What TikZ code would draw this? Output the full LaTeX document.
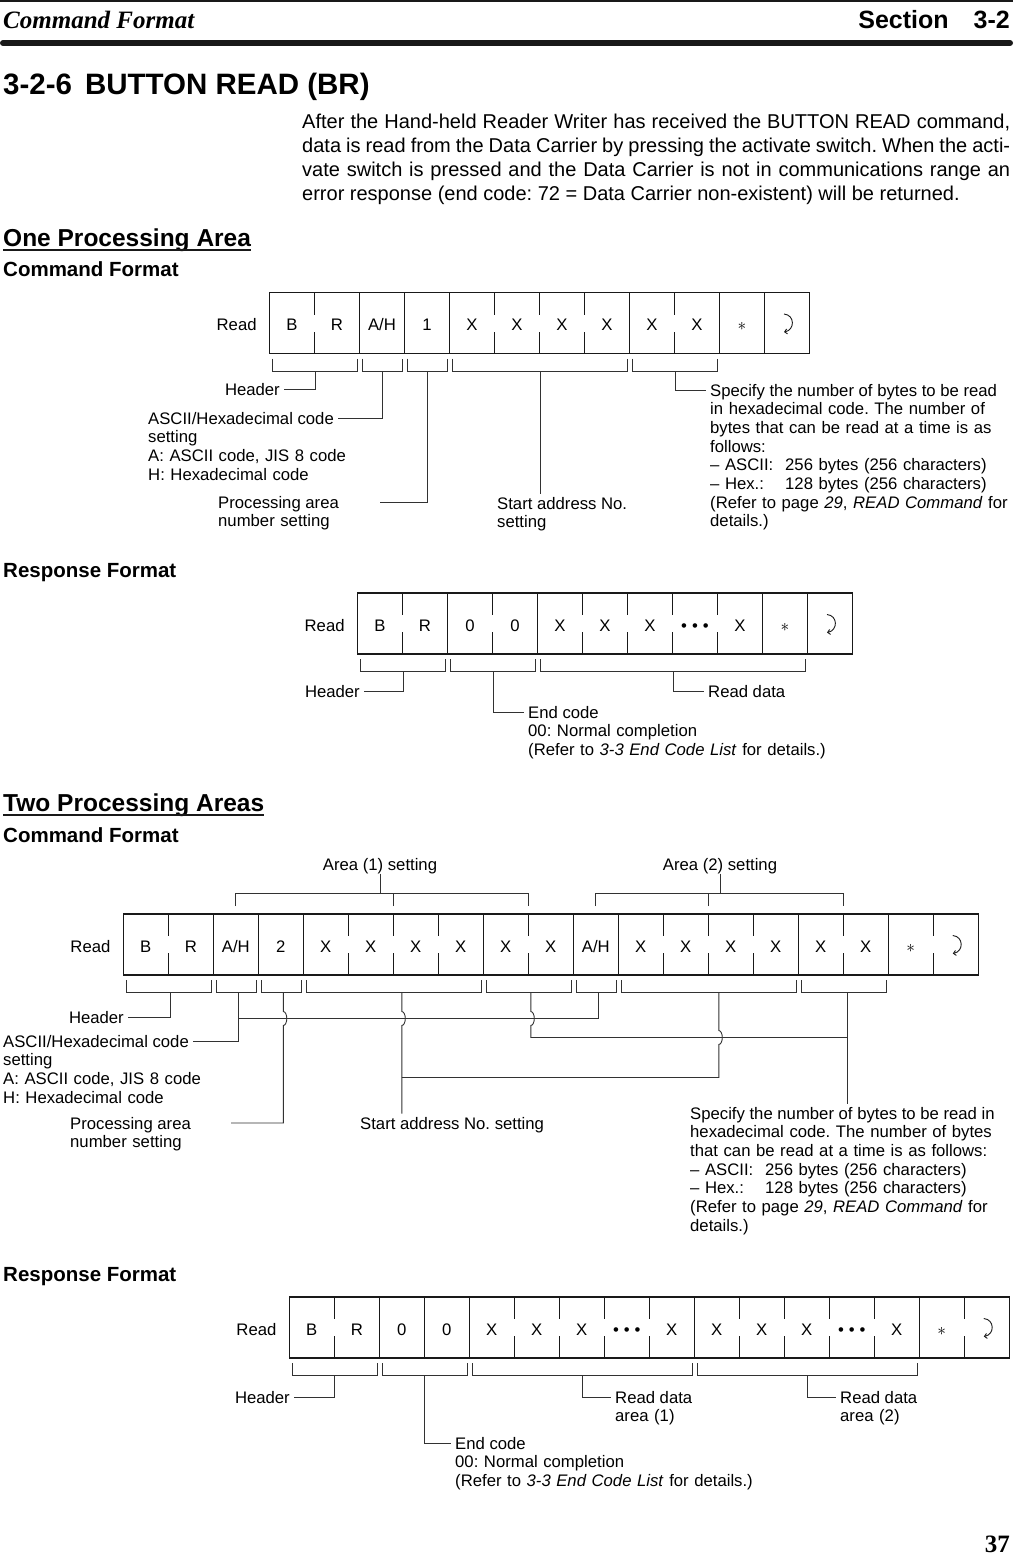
\documentclass[tikz,border=0pt]{standalone}
\usepackage{fontspec}
\setmainfont{Liberation Sans}
\newfontfamily\timesfont{Liberation Serif}
\usepackage{tikz}
\usetikzlibrary{arrows.meta, positioning, calc}
\definecolor{ink}{RGB}{25,25,25}
\definecolor{wire}{RGB}{50,50,50}
\frenchspacing
\newcommand\diafont{\fontsize{16.7}{18.65}\selectfont}
\newcommand\tridots{\textbullet\hspace{5pt}\textbullet\hspace{5pt}\textbullet}

\tikzset{
  cell/.style={minimum width=45pt, minimum height=60.6pt, inner sep=0pt, font=\diafont, text height=15pt, text depth=0pt},
  lbl/.style={font=\diafont, inner xsep=4pt, inner ysep=0pt, text height=15.5pt, text depth=3.1pt},
  lblpar/.style={font=\diafont, inner xsep=4pt, inner ysep=0pt, text width=340pt, align=left, anchor=base west},
  frame/.style={draw=ink, line width=1.1pt},
  brk/.style={draw=wire, line width=0.9pt},
  ret/.style={draw=ink, line width=0.9pt, -{Straight Barb[length=2.5pt,width=5pt]}},
  head/.style={font=\fontsize{24.5}{28}\selectfont\bfseries, inner sep=0pt, anchor=base west},
  subhead/.style={font=\fontsize{20.5}{24}\selectfont\bfseries, inner sep=0pt, anchor=base west},
}

\begin{document}
\begin{tikzpicture}[x=1pt, y=-1pt]
  \useasboundingbox (0,0) rectangle (1013,1558);
  \fill[white] (0,0) rectangle (1013,1558);
  % Page head
  \draw[ink, line width=1.5pt] (0,1) -- (1013,1);
  \node[anchor=base west, inner sep=0pt, font=\timesfont\fontsize{25}{28}\selectfont\bfseries\itshape] (pghead) at (3,28) {Command Format};
  \node[anchor=base east, inner sep=0pt, font=\fontsize{25}{28}\selectfont\bfseries] (pgsec) at (1010,28) {Section\hspace{25pt}3-2};
  \draw[ink, line width=6pt, line cap=round] (3,43) -- (1010,43);
  \node[anchor=base west, inner sep=0pt, font=\fontsize{29.5}{32}\selectfont\bfseries] (title) at (3,94) {3-2-6\hspace{13pt}BUTTON READ (BR)};
  \node[anchor=base west, inner sep=0pt, text width=708pt, align=justify, font=\fontsize{20}{24}\selectfont] (intro) at (302,128) {After the Hand-held Reader Writer has received the BUTTON READ command,\linebreak data is read from the Data Carrier by pressing the activate switch. When the acti-\linebreak vate switch is pressed and the Data Carrier is not in communications range an\linebreak error response (end code: 72 = Data Carrier non-existent) will be returned.};

  % One processing area
  \node[head] (opa) at (3,246) {One Processing Area};
  \draw[ink, line width=1.8pt] ([yshift=-4pt]opa.base west) -- ([yshift=-4pt]opa.base east);
  \node[subhead] (cf1) at (3,276) {Command Format};
  \foreach \t [count=\i from 0] in {B,R,A/H,1,X,X,X,X,X,X,$\ast$,{}}
    \node[cell] (c1-\i) at ({292+45*\i},323) {\t};
  \draw[frame] (c1-0.north west) rectangle (c1-11.south east);
  \foreach \i in {2,3,4,8,10,11}
    \draw[frame] (c1-\i.north west) -- (c1-\i.south west);
  \foreach \i in {1,5,6,7,9}
    \draw[frame] (c1-\i.north west) -- ++(0,22) (c1-\i.south west) -- ++(0,-22);
  \draw[ret] ($(c1-11.center)+(-3,-9)$) .. controls +(11,1) and +(11,-2) .. ($(c1-11.center)+(-3,9)$);
  \node[lbl, anchor=base east] (rd1) at ([xshift=-8.5pt]c1-0.base west) {Read};
  \foreach \a/\b/\nm in {0/1/h,2/2/a,3/3/p,4/7/s,8/9/n} {
    \draw[brk] ($(c1-\a.south west)+(3,5)$) -- ++(0,12.5) -| ($(c1-\b.south east)+(-2,5)$);
    \coordinate (b1\nm) at ($(c1-\a.south west)!.5!(c1-\b.south east)+(0.5,17.5)$);
  }
  \node[lbl, anchor=east] (hd1) at (284,389) {Header};
  \draw[brk] (b1h) |- (hd1.east);
  \node[lbl, anchor=west] (as1) at (144,418) {ASCII/Hexadecimal code};
  \node[lblpar] (as1x) at ([yshift=-18.65pt]as1.base west) {setting\\A: ASCII code, JIS 8 code\\H: Hexadecimal code};
  \draw[brk] (b1a) |- (as1.east);
  \node[lbl, anchor=west] (pr1) at (214,502) {Processing area};
  \node[lblpar] (pr1x) at ([yshift=-18.65pt]pr1.base west) {number setting};
  \coordinate (pr1e) at ([xshift=37pt]pr1.east);
  \draw[brk] (b1p) |- (pr1e);
  \node[lbl, anchor=west] (st1) at (493,503) {Start address No.};
  \node[lblpar] (st1x) at ([yshift=-18.65pt]st1.base west) {setting};
  \draw[brk] (b1s) -- (b1s |- st1.north);
  \node[lbl, anchor=west] (sp1) at (706,390) {Specify the number of bytes to be read};
  \node[lblpar] (sp1x) at ([yshift=-18.65pt]sp1.base west) {in hexadecimal code. The number of\\bytes that can be read at a time is as\\follows:\\\makebox[75pt][l]{– ASCII:}256 bytes (256 characters)\\\makebox[75pt][l]{– Hex.:}128 bytes (256 characters)\\(Refer to page \textit{29}, \textit{READ Command} for\\details.)};
  \draw[brk] (b1n) |- (sp1.west);

  \node[subhead] (rf1) at (3,577) {Response Format};
  \foreach \t [count=\i from 0] in {B,R,0,0,X,X,X,\tridots,X,$\ast$,{}}
    \node[cell] (c2-\i) at ({380+45*\i},623.5) {\t};
  \draw[frame] (c2-0.north west) rectangle (c2-10.south east);
  \foreach \i in {2,4,9,10}
    \draw[frame] (c2-\i.north west) -- (c2-\i.south west);
  \foreach \i in {1,3,5,6,7,8}
    \draw[frame] (c2-\i.north west) -- ++(0,22) (c2-\i.south west) -- ++(0,-22);
  \draw[ret] ($(c2-10.center)+(-3,-9)$) .. controls +(11,1) and +(11,-2) .. ($(c2-10.center)+(-3,9)$);
  \node[lbl, anchor=base east] (rd2) at ([xshift=-8.5pt]c2-0.base west) {Read};
  \foreach \a/\b/\nm in {0/1/h,2/3/e,4/9/d} {
    \draw[brk] ($(c2-\a.south west)+(3,5)$) -- ++(0,12.5) -| ($(c2-\b.south east)+(-2,5)$);
    \coordinate (b2\nm) at ($(c2-\a.south west)!.5!(c2-\b.south east)+(0.5,17.5)$);
  }
  \node[lbl, anchor=east] (hd2) at (364,691) {Header};
  \draw[brk] (b2h) |- (hd2.east);
  \node[lbl, anchor=west] (ec1) at (524,712) {End code};
  \node[lblpar] (ec1x) at ([yshift=-18.65pt]ec1.base west) {00: Normal completion\\(Refer to \textit{3-3 End Code List} for details.)};
  \draw[brk] (b2e) |- (ec1.west);
  \node[lbl, anchor=west] (dt1) at (704,691) {Read data};
  \draw[brk] (b2d) |- (dt1.west);

  % Two processing areas
  \node[head] (tpa) at (3,811) {Two Processing Areas};
  \draw[ink, line width=1.8pt] ([yshift=-4pt]tpa.base west) -- ([yshift=-4pt]tpa.base east);
  \node[subhead] (cf2) at (3,842) {Command Format};
  \foreach \t [count=\i from 0] in {B,R,A/H,2,X,X,X,X,X,X,A/H,X,X,X,X,X,X,$\ast$,{}}
    \node[cell] (c3-\i) at ({145.8+45*\i},944.5) {\t};
  \draw[frame] (c3-0.north west) rectangle (c3-18.south east);
  \foreach \i in {2,3,4,8,10,11,15,17}
    \draw[frame] (c3-\i.north west) -- (c3-\i.south west);
  \foreach \i in {1,5,6,7,9,12,13,14,16,18}
    \draw[frame] (c3-\i.north west) -- ++(0,22) (c3-\i.south west) -- ++(0,-22);
  \draw[ret] ($(c3-18.center)+(-3,-9)$) .. controls +(11,1) and +(11,-2) .. ($(c3-18.center)+(-3,9)$);
  \node[lbl, anchor=base east] (rd3) at ([xshift=-8.5pt]c3-0.base west) {Read};
  % area brackets
  \node[lbl] (ar1) at (380,864) {Area (1) setting};
  \node[lbl] (ar2) at (720,864) {Area (2) setting};
  \coordinate (a1t) at ([yshift=21pt]c3-2.north);
  \draw[brk] ([yshift=8pt]c3-2.north) -- (a1t) -| ([yshift=8pt]c3-8.north east);
  \draw[brk] ([yshift=8pt]c3-5.north east) -- ++(0,-13);
  \draw[brk] (ar1.south) -- (ar1.south |- a1t);
  \coordinate (a2t) at ([yshift=21pt]c3-10.north);
  \draw[brk] ([yshift=8pt]c3-10.north) -- (a2t) -| ([yshift=8pt]c3-15.north east);
  \draw[brk] ([yshift=8pt]c3-12.north east) -- ++(0,-13);
  \draw[brk] (ar2.south) -- (ar2.south |- a2t);
  % lower brackets
  \foreach \a/\b/\nm in {0/1/h,2/2/a,3/3/p,4/7/s,8/9/n,10/10/aa,11/14/ss,15/16/nn} {
    \draw[brk] ($(c3-\a.south west)+(3,5)$) -- ++(0,12.5) -| ($(c3-\b.south east)+(-2,5)$);
    \coordinate (b3\nm) at ($(c3-\a.south west)!.5!(c3-\b.south east)+(2.5,17.5)$);
  }
  \node[lbl, anchor=east] (hd3) at (128,1017) {Header};
  \draw[brk] (b3h) |- (hd3.east);
  \node[lbl, anchor=west] (as2) at (-1,1041) {ASCII/Hexadecimal code};
  \node[lblpar] (as2x) at ([yshift=-18.65pt]as2.base west) {setting\\A: ASCII code, JIS 8 code\\H: Hexadecimal code};
  \node[lbl, anchor=west] (pr2) at (66,1123) {Processing area};
  \node[lblpar] (pr2x) at ([yshift=-18.65pt]pr2.base west) {number setting};
  \coordinate (pr2e) at ([xshift=36pt]pr2.east);
  \node[lbl, anchor=west] (st2) at (356,1123) {Start address No. setting};
  \node[lbl, anchor=west] (sp2) at (686,1113) {Specify the number of bytes to be read in};
  \node[lblpar] (sp2x) at ([yshift=-18.65pt]sp2.base west) {hexadecimal code. The number of bytes\\that can be read at a time is as follows:\\\makebox[75pt][l]{– ASCII:}256 bytes (256 characters)\\\makebox[75pt][l]{– Hex.:}128 bytes (256 characters)\\(Refer to page \textit{29}, \textit{READ Command} for\\details.)};
  % wiring of the two areas
  \coordinate (j1) at ($(b3a)+(0,26)$);
  \coordinate (s3) at ($(b3s)+(6,0)$);
  \coordinate (s4) at ($(b3ss)+(8,0)$);
  \coordinate (n4) at ($(b3nn)+(2,0)$);
  \coordinate (j2) at ($(n4)+(0,45)$);
  \coordinate (j3) at ($(s3)+(0,85)$);
  \draw[brk] (b3a) |- (as2.east);
  \draw[brk] (b3aa) |- (j1);
  \draw[brk] (b3p) -- ($(b3p |- j1)+(0,-7)$) arc[start angle=90, end angle=-90, x radius=3.5pt, y radius=7pt] |- (pr2e);
  \draw[brk] (s3) -- ($(s3 |- j1)+(0,-7)$) arc[start angle=90, end angle=-90, x radius=3.5pt, y radius=7pt] -- (s3 |- st2.north);
  \draw[brk] (b3n) -- ($(b3n |- j1)+(0,-7)$) arc[start angle=90, end angle=-90, x radius=3.5pt, y radius=7pt] |- (j2);
  \draw[brk] (s4) -- ($(s4 |- j2)+(0,-7)$) arc[start angle=90, end angle=-90, x radius=3.5pt, y radius=7pt] |- (j3);
  \draw[brk] (n4) -- (n4 |- sp2.north);

  \node[subhead] (rf2) at (3,1281) {Response Format};
  \foreach \t [count=\i from 0] in {B,R,0,0,X,X,X,\tridots,X,X,X,X,\tridots,X,$\ast$,{}}
    \node[cell] (c4-\i) at ({311.8+45*\i},1327.5) {\t};
  \draw[frame] (c4-0.north west) rectangle (c4-15.south east);
  \foreach \i in {2,3,4,9,14}
    \draw[frame] (c4-\i.north west) -- (c4-\i.south west);
  \foreach \i in {1,5,6,7,8,10,11,12,13,15}
    \draw[frame] (c4-\i.north west) -- ++(0,22) (c4-\i.south west) -- ++(0,-22);
  \draw[ret] ($(c4-15.center)+(-3,-9)$) .. controls +(11,1) and +(11,-2) .. ($(c4-15.center)+(-3,9)$);
  \node[lbl, anchor=base east] (rd4) at ([xshift=-8.5pt]c4-0.base west) {Read};
  \foreach \a/\b/\nm in {0/1/h,2/3/e,4/8/d,9/13/dd} {
    \draw[brk] ($(c4-\a.south west)+(3,5)$) -- ++(0,12.5) -| ($(c4-\b.south east)+(-2,5)$);
    \coordinate (b4\nm) at ($(c4-\a.south west)!.5!(c4-\b.south east)+(0.5,17.5)$);
  }
  \node[lbl, anchor=east] (hd4) at (294,1397) {Header};
  \draw[brk] (b4h) |- (hd4.east);
  \node[lbl, anchor=west] (ec2) at (451,1443) {End code};
  \node[lblpar] (ec2x) at ([yshift=-18.65pt]ec2.base west) {00: Normal completion\\(Refer to \textit{3-3 End Code List} for details.)};
  \draw[brk] (b4e) |- (ec2.west);
  \node[lbl, anchor=west] (dt2) at (611,1397) {Read data};
  \node[lblpar] (dt2x) at ([yshift=-18.65pt]dt2.base west) {area (1)};
  \draw[brk] (b4d) |- (dt2.west);
  \node[lbl, anchor=west] (dt3) at (836,1397) {Read data};
  \node[lblpar] (dt3x) at ([yshift=-18.65pt]dt3.base west) {area (2)};
  \draw[brk] (b4dd) |- (dt3.west);

  \node[anchor=base east, inner sep=0pt, font=\timesfont\fontsize{25}{28}\selectfont\bfseries] (pgno) at (1010,1552) {37};
\end{tikzpicture}
\end{document}
